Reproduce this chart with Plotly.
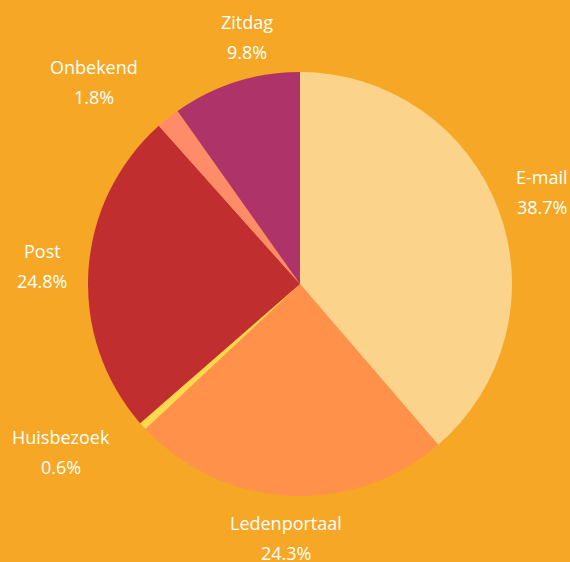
import math
import plotly.graph_objects as go

labels = ["E-mail", "Ledenportaal", "Huisbezoek", "Post", "Onbekend", "Zitdag"]
values = [38.7, 24.3, 0.6, 24.8, 1.8, 9.8]
colors = ["#FCD38A", "#FF914B", "#FFD84F", "#C02E2F", "#FF8C69", "#AE3369"]

BG = "#F5A725"
# label placement style: radius (paper units) and angular nudge (deg) per label
label_radius = {"E-mail": 0.61, "Ledenportaal": 0.60, "Huisbezoek": 0.69,
                "Post": 0.61, "Onbekend": 0.68, "Zitdag": 0.595}
label_nudge = {"E-mail": -0.5, "Ledenportaal": 0.0, "Huisbezoek": 7,
               "Post": 0.5, "Onbekend": -7, "Zitdag": 5.5}

fig = go.Figure(go.Pie(
    labels=labels, values=values, sort=False, direction="clockwise", rotation=0,
    marker=dict(colors=colors, line=dict(width=0)),
    textinfo="none", hoverinfo="label+percent", showlegend=False,
))

total = sum(values)
annotations = []
cum = 0.0
font = dict(family="Open Sans", size=18, color="white")
for lab, v in zip(labels, values):
    mid = (cum + v / 2) / total * 360.0  # clockwise degrees from top
    cum += v
    ang = math.radians(mid + label_nudge[lab])
    r = label_radius[lab]
    x = 0.5 + r * math.sin(ang)
    y = 0.5 + r * math.cos(ang)
    pct = f"{v / total * 100:.1f}%"
    annotations.append(dict(x=x, y=y, xref="paper", yref="paper", text=lab,
                            showarrow=False, font=font, yshift=15,
                            xanchor="center", yanchor="middle"))
    annotations.append(dict(x=x, y=y, xref="paper", yref="paper", text=pct,
                            showarrow=False, font=font, yshift=-15,
                            xanchor="center", yanchor="middle"))

fig.update_layout(
    width=570, height=562,
    margin=dict(l=88, r=58, t=72, b=66),
    paper_bgcolor=BG, plot_bgcolor=BG,
    annotations=annotations,
)
fig.write_html(
    "out.html",
    config={"displayModeBar": False},
    post_script="document.body.style.margin='0';document.body.style.overflow='hidden';document.body.style.background='" + BG + "';",
)
